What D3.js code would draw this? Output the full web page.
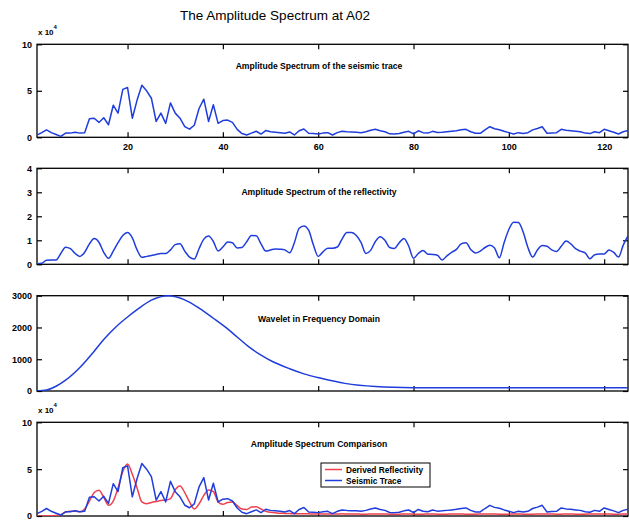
<!DOCTYPE html>
<html><head><meta charset="utf-8">
<script src="https://cdn.jsdelivr.net/npm/d3@7/dist/d3.min.js"></script>
<style>
body{margin:0;background:#fff;}
svg{display:block;}
text{font-family:"Liberation Sans",Arial,Helvetica,sans-serif;fill:#000;}
</style>
</head><body>
<svg id="chart" width="629" height="529"></svg>
<script>
// ---------------- DATA ----------------
const mainTitle = "The Amplitude Spectrum at A02";
const frequencies = d3.range(1, 126);          // frequency index 1..125
const freqTicks = [20, 40, 60, 80, 100, 120];

// Amplitude spectrum of the seismic trace (x 10^4)
const seismicTrace = [
 0.25,0.5,0.8,0.5,0.3,0.1,0.45,0.45,0.55,0.45,
 0.5,2.0,2.05,1.6,2.1,1.35,3.45,2.6,5.15,5.35,
 2.05,4.0,5.6,5.0,4.2,1.7,2.6,1.5,3.7,2.6,
 2.05,1.15,0.88,1.3,3.1,4.1,1.7,3.5,1.5,1.8,
 1.85,1.6,0.85,0.4,0.25,0.45,0.65,0.35,0.72,0.6,
 0.55,0.5,0.43,0.58,0.25,0.7,0.9,0.43,0.4,0.36,
 0.45,0.5,0.25,0.5,0.65,0.6,0.57,0.55,0.5,0.6,
 0.75,0.86,0.7,0.6,0.37,0.36,0.4,0.55,0.64,0.36,
 0.7,0.5,0.45,0.64,0.52,0.55,0.6,0.65,0.71,0.8,
 0.86,0.6,0.43,0.43,0.8,1.14,0.92,0.82,0.65,0.5,
 0.36,0.5,0.42,0.5,0.8,0.95,1.14,0.43,0.47,0.5,
 0.86,0.76,0.71,0.65,0.6,0.45,0.4,0.6,0.5,0.86,
 0.7,0.55,0.36,0.6,0.72
];

// Amplitude spectrum of the reflectivity
const reflectivity = [
 0.02,0.04,0.17,0.18,0.18,0.45,0.71,0.65,0.45,0.33,
 0.5,0.85,1.07,0.92,0.5,0.25,0.55,0.9,1.2,1.32,
 1.1,0.6,0.29,0.33,0.37,0.41,0.45,0.45,0.6,0.82,
 0.86,0.55,0.3,0.22,0.65,1.05,1.18,0.95,0.55,0.72,
 0.93,0.9,0.68,0.7,0.94,1.2,1.19,0.85,0.55,0.6,
 0.64,0.63,0.6,0.48,0.9,1.5,1.6,1.42,0.8,0.33,
 0.52,0.67,0.67,0.72,1.05,1.33,1.33,1.2,0.9,0.45,
 0.58,0.95,1.15,1.0,0.7,0.66,0.9,1.08,0.75,0.25,
 0.45,0.58,0.42,0.41,0.38,0.18,0.35,0.5,0.62,0.85,
 0.9,0.62,0.47,0.55,0.7,0.79,0.68,0.27,0.9,1.45,
 1.75,1.74,1.35,0.7,0.3,0.6,0.78,0.75,0.6,0.53,
 0.75,0.97,0.85,0.65,0.55,0.48,0.23,0.4,0.43,0.43,
 0.6,0.5,0.3,0.8,1.18
];

// Wavelet in frequency domain (sampled readings)
const waveletFreq = [1,3,5,7,10,13,15,17.6,20,22,25,28.5,32,35,38,40.4,43,45.4,48,50.5,54,57,60.6,65.6,72,80,90,100,110,125];
const waveletAmp  = [0,30,150,340,740,1250,1620,2025,2330,2560,2860,3000,2870,2610,2290,2025,1700,1395,1130,920,700,540,400,240,140,105,100,100,100,100];

// Derived reflectivity spectrum (x 10^4), compared with seismic trace
const derivedReflectivity = [
 0,0,0.02,0.03,0.05,0.15,0.42,0.5,0.5,0.45,
 0.75,1.6,2.5,2.75,2.0,1.15,1.6,3.0,4.75,5.55,
 4.45,3.0,1.5,1.3,1.45,1.55,1.65,1.7,1.85,2.8,
 3.2,2.5,1.5,0.75,1.3,2.2,2.77,2.6,1.5,1.25,
 1.45,1.5,1.1,0.75,0.7,0.95,1.0,0.75,0.5,0.4,
 0.35,0.3,0.28,0.26,0.25,0.24,0.24,0.23,0.22,0.22,
 0.22,0.21,0.22,0.22,0.23,0.22,0.21,0.21,0.2,0.2,
 0.21,0.22,0.22,0.21,0.2,0.2,0.2,0.21,0.21,0.2,
 0.2,0.2,0.21,0.21,0.2,0.2,0.2,0.21,0.22,0.21,
 0.2,0.2,0.2,0.21,0.21,0.22,0.21,0.2,0.2,0.2,
 0.21,0.21,0.2,0.2,0.2,0.21,0.22,0.22,0.21,0.2,
 0.2,0.21,0.21,0.2,0.2,0.2,0.21,0.21,0.22,0.22,
 0.21,0.2,0.2,0.21,0.22
];

const panelTitles = [
 "Amplitude Spectrum of the seismic trace",
 "Amplitude Spectrum of the reflectivity",
 "Wavelet in Frequency Domain",
 "Amplitude Spectrum Comparison"
];
const legendLabels = ["Derived Reflectivity", "Seismic Trace"];

// ---------------- DRAWING ----------------
const BLUE = "#1f3ddc", RED = "#f0404c";
const svg = d3.select("#chart");
const left = 37, right = 628;
const x = d3.scaleLinear().domain([1, 125]).range([left, right]);

svg.append("text").attr("x", 275).attr("y", 20).attr("text-anchor", "middle")
  .style("font-size", "13.5px").text(mainTitle);

const panels = [
  {top: 44.3, bottom: 137.3, ymax: 10, yticks: [0,5,10], title: panelTitles[0], titleY: 69, exp: true, xlabels: true},
  {top: 168.3, bottom: 264.3, ymax: 4, yticks: [0,1,2,3,4], title: panelTitles[1], titleY: 195},
  {top: 295.7, bottom: 391, ymax: 3000, yticks: [0,1000,2000,3000], title: panelTitles[2], titleY: 322},
  {top: 422.3, bottom: 516, ymax: 10, yticks: [0,5,10], title: panelTitles[3], titleY: 447, exp: true}
];

panels.forEach((p, i) => {
  const y = d3.scaleLinear().domain([0, p.ymax]).range([p.bottom, p.top]);
  p.y = y;
  const g = svg.append("g");
  const cid = "clip" + i;
  svg.append("clipPath").attr("id", cid).append("rect")
    .attr("x", left).attr("y", p.top - 1).attr("width", right - left).attr("height", p.bottom - p.top + 1);

  // axes with inward ticks
  const bottomAx = d3.axisBottom(x).tickValues(freqTicks).tickSizeInner(-5).tickSizeOuter(0).tickPadding(6)
      .tickFormat(p.xlabels ? d3.format("d") : () => "");
  const topAx = d3.axisTop(x).tickValues(freqTicks).tickSizeInner(-5).tickSizeOuter(0).tickFormat(() => "");
  const leftAx = d3.axisLeft(y).tickValues(p.yticks).tickSizeInner(-5).tickSizeOuter(0).tickPadding(5)
      .tickFormat(d3.format("d"));
  const rightAx = d3.axisRight(y).tickValues(p.yticks).tickSizeInner(-5).tickSizeOuter(0).tickFormat(() => "");

  [[bottomAx, `translate(0,${p.bottom})`], [topAx, `translate(0,${p.top})`],
   [leftAx, `translate(${left},0)`], [rightAx, `translate(${right},0)`]].forEach(([ax, tr]) => {
    const a = g.append("g").attr("transform", tr).call(ax);
    a.select(".domain").remove();
    a.selectAll("line").attr("stroke", "#000").attr("stroke-width", 1.2);
    a.selectAll("text").style("font-size", "9px").style("font-weight", "bold").attr("fill", "#000");
  });

  g.append("rect").attr("x", left).attr("y", p.top).attr("width", right - left).attr("height", p.bottom - p.top)
    .attr("fill", "none").attr("stroke", "#000").attr("stroke-width", 1.3);

  g.append("text").attr("x", 319).attr("y", p.titleY).attr("text-anchor", "middle")
    .style("font-size", "8.6px").style("font-weight", "bold").text(p.title);

  if (p.exp) {
    const t = g.append("text").attr("x", left + 1).attr("y", p.top - 9).style("font-size", "8px").style("font-weight", "bold");
    t.append("tspan").text("x 10");
    t.append("tspan").attr("dy", -6).style("font-size", "6px").text("4");
  }
  p.plot = g.append("g").attr("clip-path", `url(#${cid})`);
});

const lineIdx = (yScale, arr) => d3.line().x((d, i) => x(frequencies[i])).y(d => yScale(d));

// Panel 1: seismic trace
panels[0].plot.append("path").datum(seismicTrace)
  .attr("d", lineIdx(panels[0].y, seismicTrace)).attr("fill", "none").attr("stroke", BLUE).attr("stroke-width", 1.5)
  .attr("stroke-linejoin", "round");

// Panel 2: reflectivity (smooth)
panels[1].plot.append("path").datum(reflectivity)
  .attr("d", lineIdx(panels[1].y, reflectivity).curve(d3.curveMonotoneX)).attr("fill", "none").attr("stroke", BLUE).attr("stroke-width", 1.5);

// Panel 3: wavelet
panels[2].plot.append("path").datum(waveletAmp)
  .attr("d", d3.line().x((d, i) => x(waveletFreq[i])).y(d => panels[2].y(d)).curve(d3.curveMonotoneX))
  .attr("fill", "none").attr("stroke", BLUE).attr("stroke-width", 1.5);

// Panel 4: comparison
panels[3].plot.append("path").datum(derivedReflectivity)
  .attr("d", lineIdx(panels[3].y, derivedReflectivity).curve(d3.curveMonotoneX)).attr("fill", "none").attr("stroke", RED).attr("stroke-width", 1.5);
panels[3].plot.append("path").datum(seismicTrace)
  .attr("d", lineIdx(panels[3].y, seismicTrace)).attr("fill", "none").attr("stroke", BLUE).attr("stroke-width", 1.5)
  .attr("stroke-linejoin", "round");

// Legend
const lg = svg.append("g").attr("transform", "translate(321,463)");
lg.append("rect").attr("width", 109).attr("height", 24).attr("fill", "#fff").attr("stroke", "#000").attr("stroke-width", 1);
[RED, BLUE].forEach((c, i) => {
  const yy = 6.5 + i * 11;
  lg.append("line").attr("x1", 4).attr("x2", 21).attr("y1", yy).attr("y2", yy).attr("stroke", c).attr("stroke-width", 1.5);
  lg.append("text").attr("x", 25).attr("y", yy + 3).style("font-size", "8.3px").style("font-weight", "bold").text(legendLabels[i]);
});
</script>
</body></html>
